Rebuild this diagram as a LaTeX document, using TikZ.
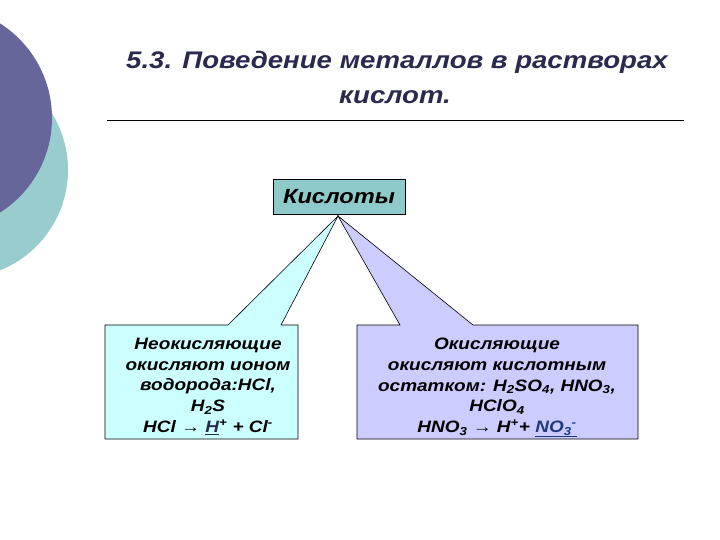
\documentclass[tikz,border=0pt]{standalone}
\usepackage{fontspec}
\setmainfont{Liberation Sans}[FakeStretch=1.15]
\begin{document}
\begin{tikzpicture}[x=1pt,y=-1pt,
  titletext/.style={font=\fontsize{24}{30}\selectfont\bfseries\itshape, text=titlecol, inner sep=0pt},
  boxtext/.style={font=\fontsize{16.5}{20.7}\selectfont\bfseries\itshape, align=center, inner sep=0pt},
  callout/.style={draw=black, line width=0.6pt, line join=miter}]
\definecolor{titlecol}{HTML}{2A2A4E}
\definecolor{darkcirc}{HTML}{66669A}
\definecolor{tealcirc}{HTML}{99CCCC}
\definecolor{headfill}{HTML}{8FCACA}
\definecolor{leftfill}{HTML}{CCFFFF}
\definecolor{rightfill}{HTML}{CCCCFF}
\definecolor{nocol}{HTML}{1F3A80}
\definecolor{hcol}{HTML}{2A2A4E}
\useasboundingbox[fill=white] (0,0) rectangle (720,540);
% decorative circles
\fill[tealcirc] (-40,170) circle[radius=108];
\fill[darkcirc] (-60,118) circle[radius=112];
% title
\node[titletext] (t1) at (397,62) {5.3. Поведение металлов в растворах};
\node[titletext] (t2) at (395,97) {кислот.};
\coordinate (la) at (107,120);
\coordinate (lb) at (684,120);
\draw[line width=0.8pt] (la) -- (lb);
% head box
\node[draw=black, fill=headfill, line width=0.6pt, minimum width=132pt, minimum height=35pt, inner sep=0pt,
  font=\fontsize{20.5}{22}\selectfont\bfseries\itshape] (head) at (339,197) {Кислоты};
\coordinate (apex) at (338,216);
% left callout box
\coordinate (L1) at (105,325);
\coordinate (L2) at (298,325);
\coordinate (L3) at (298,439);
\coordinate (L4) at (105,439);
\coordinate (Lb1) at (228,325);
\coordinate (Lb2) at (281,325);
\filldraw[callout, fill=leftfill] (L1) -- (Lb1) -- (apex) -- (Lb2) -- (L2) -- (L3) -- (L4) -- cycle;
% right callout box
\coordinate (R1) at (357,325);
\coordinate (R2) at (638,325);
\coordinate (R3) at (638,439);
\coordinate (R4) at (357,439);
\coordinate (Rb1) at (400,325);
\coordinate (Rb2) at (473,325);
\filldraw[callout, fill=rightfill] (R1) -- (Rb1) -- (apex) -- (Rb2) -- (R2) -- (R3) -- (R4) -- cycle;
% texts
\node[boxtext, anchor=north] (ltext) at (208,338) {Неокисляющие\\окисляют ионом\\водорода:HCl,\\H\textsubscript{2}S\\HCl → \textcolor{hcol}{\underline{H}}\textsuperscript{+} + Cl\textsuperscript{-}};
\node[boxtext, anchor=north] (rtext) at (497,338) {Окисляющие\\окисляют кислотным\\остатком: H\textsubscript{2}SO\textsubscript{4}, HNO\textsubscript{3},\\HClO\textsubscript{4}\\HNO\textsubscript{3} → H\textsuperscript{+}+ \textcolor{nocol}{\underline{NO\textsubscript{3}\textsuperscript{-}}}};
\end{tikzpicture}
\end{document}
